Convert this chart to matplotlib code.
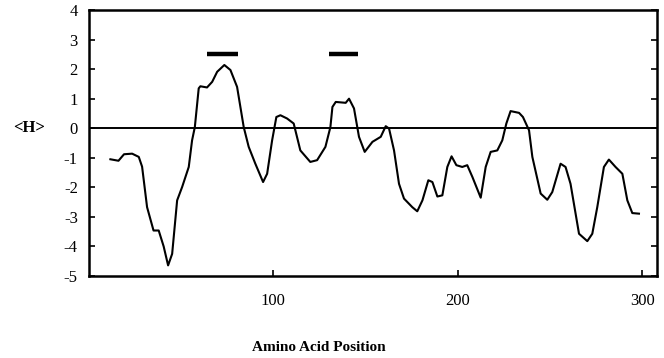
import matplotlib.pyplot as plt

# hydropathy profile
pos = [11.6, 16, 19, 23.4, 27, 28.8, 31.5, 35, 37.8, 40.5, 42.9, 45.1, 47.8, 50.5,
       54.1, 55.9, 57.4, 59.5, 60.4, 64, 66.8, 69.5, 73.4, 76.7, 80.3, 83.9, 86.6,
       90.2, 94.4, 96.6, 99.3, 101.6, 103.8, 107.4, 111, 114.6, 120, 123.7, 128.2,
       130.9, 132, 133.8, 139.2, 141, 143.7, 146.4, 149.5, 153.7, 158.2, 160.9,
       162.7, 165.4, 168.1, 170.8, 175.3, 178, 180.8, 184, 186.2, 188.9, 191.6,
       194.3, 196.6, 199.2, 202.4, 205.1, 207.9, 212.4, 215.1, 217.8, 221.4, 224.1,
       226.3, 228.6, 233.2, 235.3, 238.6, 240.4, 244.9, 248.5, 251.2, 255.7, 258.4,
       261.1, 265.7, 270.2, 272.9, 275.6, 279.2, 281.9, 285.5, 289.2, 291.9, 294.6,
       298.2]
hyd = [-1.05, -1.1, -0.88, -0.86, -0.97, -1.3, -2.67, -3.46, -3.46, -4.0, -4.64,
       -4.25, -2.44, -1.99, -1.31, -0.41, 0.04, 1.35, 1.42, 1.38, 1.57, 1.91, 2.14,
       1.97, 1.40, 0.04, -0.63, -1.2, -1.82, -1.54, -0.41, 0.38, 0.44, 0.33, 0.16,
       -0.75, -1.14, -1.08, -0.63, 0.04, 0.72, 0.89, 0.86, 1.0, 0.67, -0.29, -0.8,
       -0.46, -0.29, 0.07, -0.01, -0.75, -1.88, -2.38, -2.67, -2.81, -2.44, -1.76,
       -1.82, -2.31, -2.27, -1.31, -0.95, -1.25, -1.31, -1.25, -1.65, -2.35, -1.31,
       -0.8, -0.75, -0.41, 0.16, 0.58, 0.52, 0.38, -0.07, -0.97, -2.21, -2.42,
       -2.16, -1.2, -1.31, -1.88, -3.57, -3.82, -3.57, -2.67, -1.31, -1.06, -1.31,
       -1.54, -2.44, -2.87, -2.89]

# marked segments (start, end) at height 2.5
segments = [(64, 80.6), (130, 146.1)]
seg_y = 2.5

plt.rcParams['font.family'] = ['Liberation Serif', 'DejaVu Serif']
plt.rcParams['axes.unicode_minus'] = False

fig = plt.figure(figsize=(6.64, 3.58), dpi=100)
ax = fig.add_axes([0.134, 0.229, 0.8555, 0.743])

ax.plot(pos, hyd, color='black', lw=1.5)
ax.axhline(0, color='black', lw=1.4)
for s, e in segments:
    ax.plot([s, e], [seg_y, seg_y], color='black', lw=3.2, solid_capstyle='butt')

ax.set_xlim(0, 308)
ax.set_ylim(-5, 4)
ax.set_xticks([100, 200, 300])
ax.set_yticks(range(-5, 5))
ax.tick_params(direction='in', length=4, width=1.2, labelsize=12, right=True, labelright=False)
ax.tick_params(axis='y', pad=8)
ax.tick_params(axis='x', pad=12)
for sp in ax.spines.values():
    sp.set_linewidth(1.8)

ax.text(-0.105, 0, '<H>', transform=ax.get_yaxis_transform(), ha='center', va='center',
        fontsize=12, fontweight='bold')
fig.text(0.48, 0.03, 'Amino Acid Position', ha='center', va='center', fontsize=11, fontweight='bold')

plt.savefig('out.png', dpi=100)
